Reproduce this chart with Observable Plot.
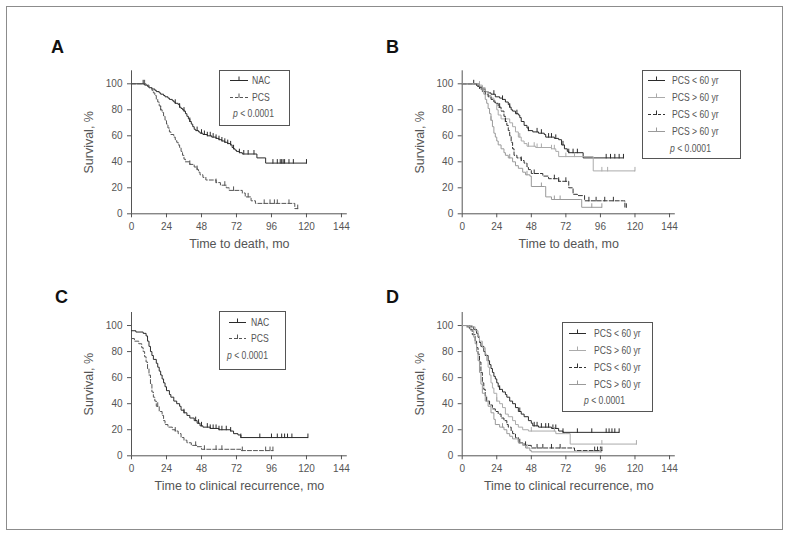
<!DOCTYPE html>
<html><head><meta charset="utf-8">
<script src="https://cdn.jsdelivr.net/npm/d3@7"></script>
<script src="https://cdn.jsdelivr.net/npm/@observablehq/plot@0.6"></script>
<style>
body{margin:0;background:#fff;font-family:"Liberation Sans",Arial,sans-serif;}
#wrap{position:relative;width:790px;height:537px;overflow:hidden}
#border{position:absolute;left:6px;top:6px;width:777px;height:524px;border:1px solid #8c8c8c;box-sizing:border-box}
.panel{position:absolute}
.letter{position:absolute;font-weight:bold;font-size:18px;color:#111;line-height:18px}
.legend{position:absolute;border:1px solid #555;box-sizing:border-box;background:#fff}
.legend .row{position:absolute;font-size:10.5px;color:#555;white-space:nowrap;line-height:12px;height:12px;transform:scaleX(0.82);transform-origin:0 50%}
.legend svg{position:absolute}
g[aria-label="x-axis label"], g[aria-label="y-axis label"]{font-size:12.5px;fill:#555}
</style></head>
<body><div id="wrap"><div id="border"></div></div>
<script>
// ---------- data ----------
const xTicks = [0, 24, 48, 72, 96, 120, 144];
const yTicks = [0, 20, 40, 60, 80, 100];
const yLabel = "Survival, %";
const xLabelDeath = "Time to death, mo";
const xLabelRec = "Time to clinical recurrence, mo";
const pText = "< 0.0001";

// Panel A: time to death
const deathNAC = [[0,100],[9,99],[11,98],[12,97],[14,96],[16,95],[17,94],[19,93],[20,92],[22,91],[23,90],[25,89],[26,88],[28,87],[29,86],[30,85],[32,84],[33,82],[34,81],[35,80],[36,79],[37,77],[38,75],[39,73],[40,71],[41,69],[42,67],[43,65],[44,64],[46,63],[47,62],[49,61],[52,60],[55,59],[58,58],[60,57],[62,56],[64,55],[66,54],[68,53],[69,51],[70,50],[71,49],[72,48],[74,47],[76,46],[86,43],[92,39],[120,39]];
const deathNACCens = [8,30,33,36,40,45,48,50,52,54,56,58,60,62,64,66,68,70,74,77,80,84,97,100,102,103,104,105,108,111,120];
const deathPCS = [[0,100],[8,100],[10,99],[12,97],[14,95],[15,93],[16,91],[17,88],[18,86],[19,83],[20,80],[21,78],[22,75],[23,72],[24,69],[25,66],[26,63],[27,61],[29,59],[30,57],[31,55],[32,53],[33,51],[34,48],[35,45],[36,42],[37,40],[40,38],[43,36],[45,34],[46,32],[47,30],[49,28],[51,26],[57,26],[58,24],[61,22],[65,20],[67,18],[74,18],[76,16],[78,13],[82,10],[85,8],[111,8],[112,4],[114,4]];
const deathPCSCens = [9,20,40,45,58,64,70,80,91,95,98,100,108,114];

// Panel B: time to death by age
const deathYoung1 = [[0,100],[8,100],[10,99],[12,97],[14,96],[16,94],[18,93],[20,92],[23,90],[26,89],[28,88],[30,86],[32,84],[33,82],[34,80],[35,79],[37,77],[39,76],[40,74],[41,71],[43,68],[45,66],[46,64],[49,63],[53,62],[57,61],[58,59],[64,58],[67,57],[69,53],[71,50],[73,48],[74,47],[84,43],[112,43]];
const deathYoung1Cens = [8,22,28,33,38,46,52,55,60,62,65,70,74,77,80,100,103,106,109,112];
const deathOld1 = [[0,100],[10,100],[12,99],[14,97],[16,94],[18,91],[20,89],[22,87],[23,85],[24,80],[25,76],[27,73],[32,73],[33,70],[35,67],[37,63],[39,59],[41,56],[43,54],[45,52],[51,51],[62,50],[65,48],[67,44],[84,44],[91,33],[120,33]];
const deathOld1Cens = [12,40,46,50,52,55,62,64,72,78,97,101,120];
const deathYoung2 = [[0,100],[8,100],[10,98],[12,96],[14,94],[16,92],[18,90],[20,88],[22,86],[23,85],[25,82],[27,79],[29,75],[30,71],[31,68],[32,64],[33,60],[34,55],[35,50],[36,45],[38,43],[41,41],[43,39],[45,36],[46,34],[48,31],[56,29],[60,27],[67,25],[74,20],[77,15],[80,14],[85,10],[112,10],[113,5],[114,5]];
const deathYoung2Cens = [26,30,41,50,64,67,72,88,93,99,105,114];
const deathOld2 = [[0,100],[10,100],[12,98],[14,95],[15,92],[16,88],[17,85],[18,81],[19,77],[20,72],[21,67],[22,62],[23,59],[24,56],[25,53],[27,50],[29,47],[30,45],[32,43],[35,40],[37,37],[39,35],[42,32],[44,30],[47,29],[48,21],[57,21],[58,13],[62,11],[82,11],[83,5],[97,5]];
const deathOld2Cens = [20,33,45,55,64,68,90,97];

// Panel C: time to clinical recurrence
const recNAC = [[0,96],[3,95],[8,94],[10,92],[11,88],[12,84],[13,80],[14,77],[15,74],[17,71],[18,68],[19,65],[20,62],[21,59],[22,56],[23,53],[24,50],[26,47],[27,45],[29,42],[31,40],[33,38],[34,35],[36,33],[38,31],[40,29],[43,27],[45,25],[47,23],[49,22],[54,21],[60,20],[68,19],[70,17],[73,16],[75,14],[121,14]];
const recNACCens = [36,44,46,48,52,54,56,58,60,62,65,68,75,88,96,100,103,105,107,110,121];
const recPCS = [[0,90],[2,88],[5,86],[7,83],[8,80],[9,76],[10,72],[11,67],[12,62],[13,55],[14,49],[15,45],[16,42],[17,38],[19,34],[21,31],[22,27],[23,24],[25,22],[28,20],[30,19],[32,17],[34,14],[36,12],[38,10],[41,8],[45,7],[48,5],[73,5],[75,4],[97,4]];
const recPCSCens = [18,30,44,50,58,62,76,92,95,97];

// Panel D: time to clinical recurrence by age
const recYoung1 = [[0,100],[4,100],[6,99],[8,97],[10,94],[11,91],[12,87],[13,84],[15,80],[16,77],[18,73],[19,70],[20,67],[21,64],[22,61],[23,59],[24,56],[25,53],[26,51],[28,49],[30,47],[31,45],[33,42],[35,40],[37,37],[39,34],[41,32],[43,30],[46,27],[48,25],[49,23],[53,22],[62,21],[67,19],[70,18],[109,18]];
const recYoung1Cens = [26,40,50,52,55,58,60,63,65,70,80,90,100,102,104,106,109];
const recOld1 = [[0,100],[5,100],[7,99],[9,96],[11,92],[12,88],[14,83],[16,78],[17,73],[18,68],[19,62],[20,56],[21,52],[22,48],[24,42],[26,40],[28,37],[30,32],[32,30],[35,27],[37,24],[39,22],[42,20],[46,19],[64,19],[65,17],[72,17],[75,9],[121,9]];
const recOld1Cens = [24,48,64,97,121];
const recYoung2 = [[0,100],[3,99],[5,97],[7,93],[9,88],[10,83],[11,78],[12,72],[13,64],[14,56],[15,51],[16,46],[17,42],[19,39],[21,36],[23,34],[25,32],[27,29],[29,27],[31,24],[32,22],[34,19],[35,17],[37,14],[39,10],[42,9],[44,8],[48,6],[77,6],[78,4],[97,4]];
const recYoung2Cens = [40,44,52,56,62,68,92,94,96,97];
const recOld2 = [[0,100],[4,99],[6,96],[8,91],[9,86],[10,80],[11,73],[12,64],[13,55],[14,48],[16,42],[18,38],[20,33],[22,28],[23,24],[26,22],[29,20],[31,17],[33,15],[35,13],[39,10],[42,8],[44,6],[47,4],[48,3],[97,3]];
const recOld2Cens = [28,45,96];

const groupLabels2 = ["NAC", "PCS"];
const groupLabels4 = ["PCS < 60 yr", "PCS > 60 yr", "PCS < 60 yr", "PCS > 60 yr"];

// ---------- styles ----------
const DARK = "#2b2b2b", MID = "#555", LIGHT = "#ababab", LIGHT2 = "#9a9a9a";
const styleSolidDark = {color: DARK};
const styleDashMid = {color: MID, dash: "4,2"};
const styleSolidLight = {color: LIGHT};
const styleDashDark = {color: "#333", dash: "4,2"};
const styleLight2 = {color: LIGHT2};

function stepAt(data, t) {
  let v = data[0][1];
  for (const [x, y] of data) { if (x <= t) v = y; else break; }
  return v;
}
const tickSym = {draw(ctx, size) { const r = Math.sqrt(size / Math.PI); ctx.moveTo(0, 0.5); ctx.lineTo(0, -r * 2); }};

const wrap = document.getElementById("wrap");

function makePanel(cfg) {
  const marks = [
    Plot.ruleY([0], {stroke: "#555"}),
    Plot.ruleX([0], {stroke: "#555"})
  ];
  for (const s of cfg.series) {
    marks.push(Plot.line(s.data, {x: d => d[0], y: d => d[1], curve: "step-after", stroke: s.style.color, strokeWidth: 1, strokeDasharray: s.style.dash}));
    marks.push(Plot.dot(s.censor.map(t => [t, stepAt(s.data, t)]), {x: d => d[0], y: d => d[1], symbol: tickSym, r: 2, fill: "none", stroke: s.style.color, strokeWidth: 1}));
  }
  const svg = Plot.plot({
    width: cfg.w, height: cfg.h,
    marginLeft: cfg.mL, marginRight: cfg.mR, marginTop: cfg.mT, marginBottom: cfg.mB,
    style: {fontFamily: "'Liberation Sans', Arial, sans-serif", fontSize: "10px", color: "#555", background: "transparent", overflow: "visible"},
    x: {domain: [0, 148], ticks: xTicks, tickSize: 4, label: cfg.xLabel, labelAnchor: "center", labelArrow: "none", labelOffset: 34},
    y: {domain: [0, 110], ticks: yTicks, tickSize: 4, label: yLabel, labelAnchor: "center", labelArrow: "none", labelOffset: 47},
    marks
  });
  svg.classList.add("panel");
  svg.style.position = "absolute";
  svg.style.left = cfg.left + "px";
  svg.style.top = cfg.top + "px";
  wrap.appendChild(svg);

  const L = document.createElement("div");
  L.className = "letter"; L.textContent = cfg.letter;
  L.style.left = cfg.letterPos[0] + "px"; L.style.top = cfg.letterPos[1] + "px";
  wrap.appendChild(L);

  const lg = cfg.legend;
  const box = document.createElement("div");
  box.className = "legend";
  Object.assign(box.style, {left: lg.left + "px", top: lg.top + "px", width: lg.w + "px", height: lg.h + "px"});
  cfg.series.forEach((s, i) => {
    const cy = lg.rows[i] - lg.top - 1;
    const ns = "http://www.w3.org/2000/svg";
    const sv = document.createElementNS(ns, "svg");
    sv.setAttribute("width", lg.lineW); sv.setAttribute("height", 10);
    sv.style.left = lg.lineX + "px"; sv.style.top = (cy - 6) + "px";
    const ln = document.createElementNS(ns, "line");
    ln.setAttribute("x1", 0); ln.setAttribute("x2", lg.lineW); ln.setAttribute("y1", 6.5); ln.setAttribute("y2", 6.5);
    ln.setAttribute("stroke", s.style.color); ln.setAttribute("stroke-width", 1);
    if (s.style.dash) ln.setAttribute("stroke-dasharray", "3,2");
    const tk = document.createElementNS(ns, "line");
    tk.setAttribute("x1", lg.lineW / 2); tk.setAttribute("x2", lg.lineW / 2); tk.setAttribute("y1", 7); tk.setAttribute("y2", 2.5);
    tk.setAttribute("stroke", s.style.color); tk.setAttribute("stroke-width", 1);
    sv.appendChild(ln); sv.appendChild(tk); box.appendChild(sv);
    const r = document.createElement("div");
    r.className = "row"; r.textContent = s.label;
    r.style.left = lg.textX + "px"; r.style.top = (cy - 6) + "px";
    box.appendChild(r);
  });
  const p = document.createElement("div");
  p.className = "row";
  p.innerHTML = "<i>p</i> " + pText;
  p.style.left = lg.pX + "px"; p.style.top = (lg.pY - lg.top - 7) + "px";
  box.appendChild(p);
  wrap.appendChild(box);
}

makePanel({
  letter: "A", letterPos: [51, 38],
  left: 30, top: 30, w: 330, h: 230, mL: 101, mR: 13.2, mT: 40.3, mB: 46.7,
  xLabel: xLabelDeath,
  series: [
    {label: groupLabels2[0], data: deathNAC, censor: deathNACCens, style: styleSolidDark},
    {label: groupLabels2[1], data: deathPCS, censor: deathPCSCens, style: styleDashMid}
  ],
  legend: {left: 219, top: 70, w: 71, h: 56, rows: [80, 97], pX: 13, pY: 113, lineX: 10, lineW: 18, textX: 32}
});
makePanel({
  letter: "B", letterPos: [386, 38],
  left: 400, top: 30, w: 330, h: 230, mL: 61.7, mR: 55.2, mT: 40.3, mB: 46.7,
  xLabel: xLabelDeath,
  series: [
    {label: groupLabels4[0], data: deathYoung1, censor: deathYoung1Cens, style: styleSolidDark},
    {label: groupLabels4[1], data: deathOld1, censor: deathOld1Cens, style: styleSolidLight},
    {label: groupLabels4[2], data: deathYoung2, censor: deathYoung2Cens, style: styleDashDark},
    {label: groupLabels4[3], data: deathOld2, censor: deathOld2Cens, style: styleLight2}
  ],
  legend: {left: 642, top: 70, w: 99, h: 89, rows: [80, 97, 114, 131], pX: 27, pY: 148, lineX: 5, lineW: 17, textX: 29}
});
makePanel({
  letter: "C", letterPos: [55, 288],
  left: 30, top: 280, w: 330, h: 230, mL: 101, mR: 13.2, mT: 32, mB: 54.7,
  xLabel: xLabelRec,
  series: [
    {label: groupLabels2[0], data: recNAC, censor: recNACCens, style: styleSolidDark},
    {label: groupLabels2[1], data: recPCS, censor: recPCSCens, style: styleDashMid}
  ],
  legend: {left: 219, top: 311, w: 67, h: 59, rows: [322, 338], pX: 7, pY: 355, lineX: 9, lineW: 17, textX: 31}
});
makePanel({
  letter: "D", letterPos: [386, 288],
  left: 400, top: 280, w: 330, h: 230, mL: 61.7, mR: 55.2, mT: 32, mB: 54.7,
  xLabel: xLabelRec,
  series: [
    {label: groupLabels4[0], data: recYoung1, censor: recYoung1Cens, style: styleSolidDark},
    {label: groupLabels4[1], data: recOld1, censor: recOld1Cens, style: styleSolidLight},
    {label: groupLabels4[2], data: recYoung2, censor: recYoung2Cens, style: styleDashDark},
    {label: groupLabels4[3], data: recOld2, censor: recOld2Cens, style: styleLight2}
  ],
  legend: {left: 562, top: 322, w: 91, h: 90, rows: [333, 350, 367, 384], pX: 21, pY: 400, lineX: 6, lineW: 17, textX: 31}
});
</script></body></html>
